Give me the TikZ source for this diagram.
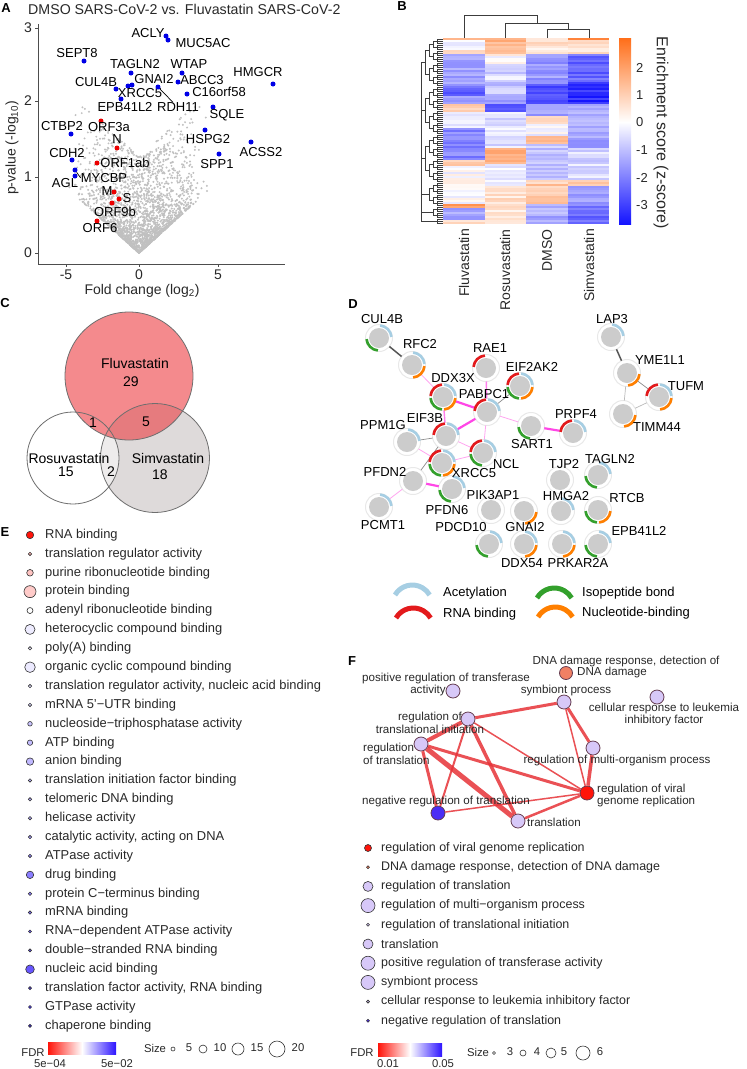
\documentclass[tikz,border=0pt]{standalone}
\usepackage{fontspec}
\setmainfont{Liberation Sans}
\newcommand\fsz[1]{\fontsize{#1}{#1}\selectfont}
\definecolor{zblue}{RGB}{20,20,255}
\definecolor{zorange}{RGB}{255,110,25}
\definecolor{volgrey}{RGB}{192,192,192}
\definecolor{ptblue}{RGB}{0,0,230}
\definecolor{ptred}{RGB}{235,0,0}
\definecolor{axisgrey}{RGB}{77,77,77}
\definecolor{dendgrey}{RGB}{60,60,60}
\definecolor{vennred}{RGB}{236,60,65}
\definecolor{venngrey}{RGB}{222,218,218}
\definecolor{vennedge}{RGB}{110,110,110}
\definecolor{protgrey}{RGB}{204,204,204}
\definecolor{halo}{RGB}{232,232,232}
\definecolor{acet}{RGB}{166,206,227}
\definecolor{rnab}{RGB}{227,26,28}
\definecolor{isop}{RGB}{51,160,44}
\definecolor{nuco}{RGB}{255,127,0}
\definecolor{edgepink}{RGB}{255,165,240}
\definecolor{edgemag}{RGB}{255,70,230}
\definecolor{edgegrey}{RGB}{140,140,140}
\definecolor{edgedark}{RGB}{85,85,85}
\definecolor{fdrred}{RGB}{255,20,10}
\definecolor{fdrblue}{RGB}{45,20,255}
\definecolor{lav}{RGB}{215,200,248}
\definecolor{fborder}{RGB}{100,60,80}
\definecolor{fred}{RGB}{230,50,55}
\definecolor{salmon}{RGB}{240,128,100}
\definecolor{fnegblue}{RGB}{75,45,245}
\definecolor{txtgrey}{RGB}{40,40,40}

\begin{document}
\begin{tikzpicture}[x=1pt,y=-1pt,
  pletter/.style={font=\bfseries\fsz{13},inner sep=0},
  gene/.style={font=\fsz{13},inner sep=0},
  tick/.style={font=\fsz{14},inner sep=0,text=txtgrey},
  bluept/.style={circle,fill=ptblue,inner sep=0,minimum size=5pt},
  redpt/.style={circle,fill=ptred,inner sep=0,minimum size=5pt},
  leader/.style={draw=black,line width=0.7pt},
  prot/.style={circle,fill=protgrey,inner sep=0,minimum size=20pt,outer sep=3.5pt},
  plbl/.style={font=\fsz{13},inner sep=0},
  ppi/.style={draw=edgepink,line width=0.8pt},
  ppim/.style={draw=edgemag!70!white,line width=1.4pt},
  ppis/.style={draw=edgemag,line width=2.2pt},
  ppig/.style={draw=edgegrey,line width=0.7pt},
  ppid/.style={draw=edgedark,line width=1.5pt},
  goterm/.style={circle,draw=black!80,line width=0.6pt,inner sep=0},
  golbl/.style={font=\fsz{12.9},inner sep=0,anchor=west,text=txtgrey},
  fterm/.style={circle,draw=fborder,line width=0.8pt,minimum size=14pt,inner sep=0,fill=#1},
  flbl/.style={font=\fontsize{11.6}{12.8}\selectfont,inner sep=0,text=txtgrey},
  fedge/.style={draw=fred,line width=#1,draw opacity=0.85},
  fleg/.style={font=\fsz{12.45},inner sep=0,anchor=west,text=txtgrey},
  cblbl/.style={font=\fsz{11.3},inner sep=0,text=txtgrey}]
\useasboundingbox (0,0) rectangle (747,1069);

% ---------- A: volcano plot
\node[pletter] (lA) at (6,8) {A};
\node[font=\fsz{14.2},inner sep=0,anchor=west,text=txtgrey] (titleA) at (28,9) {DMSO SARS-CoV-2 vs. Fluvastatin SARS-CoV-2};
\pgfmathsetseed{11}
\foreach \i in {1,...,2400}{
  \pgfmathsetmacro\fx{1.6*(rand+rand+rand)}
  \pgfmathsetmacro\py{0.19*abs(\fx)+1.3*rnd^2.6}
  \fill[volgrey] (139+15.8*\fx,253-75*\py) circle (1.1pt);
}
\draw[axisgrey,line width=1pt] (38,24) -- (38,264) -- (285,264);
\foreach \yv/\yl in {28/3,101/2,177/1,253/0}{
  \draw[axisgrey,line width=1pt] (35,\yv) -- (38,\yv);
  \node[tick,anchor=east] at (32,\yv) {\yl};
}
\foreach \xv/\xl in {66/-5,139/0,218/5}{
  \draw[axisgrey,line width=1pt] (\xv,264) -- (\xv,267);
  \node[tick] at (\xv,275) {\xl};
}
\node[tick,rotate=90] (ytitle) at (12,148) {p-value (-log\textsubscript{10})};
\node[tick] (xtitle) at (142,291) {Fold change (log\textsubscript{2})};
\foreach \n/\x/\y/\lx/\ly in {ACLY/166/36/148/33, MUC5AC/168/40/203/43,
  SEPT8/84/61/77/53, TAGLN2/131/73/135/64, WTAP/182/73/189/64,
  HMGCR/273/84/258/72, GNAI2/132/85/154/79, ABCC3/178/82/202/80,
  CUL4B/116/89/96/82, XRCC5/128/86/140/93, RDH11/158/87/178/107,
  C16orf58/187/94/219/92, EPB41L2/121/99/125/107, SQLE/213/107/227/115,
  CTBP2/71/134/62/126, HSPG2/205/130/208/139, ACSS2/251/142/261/152,
  SPP1/219/154/217/164, CDH2/72/160/67/153, MYCBP/75/170/104/178,
  AGL/75/176/65/183}{
  \node[bluept] (v\n) at (\x,\y) {};
  \node[gene] (t\n) at (\lx,\ly) {\n};
}
\foreach \n/\x/\y/\lx/\ly in {ORF3a/101/121/109/127, N/117/148/117/139,
  ORF1ab/97/163/125/163, M/114/192/107/191, S/119/199/127/198,
  ORF9b/112/203/115/212, ORF6/97/221/100/228}{
  \node[redpt] (v\n) at (\x,\y) {};
  \node[gene] (t\n) at (\lx,\ly) {\n};
}
\draw[leader] (vRDH11) -- ([xshift=16pt]tRDH11.north west);
\draw[leader] (vMYCBP) -- (tMYCBP.west);

% ---------- B: heatmap
\node[pletter] (lB) at (402,6) {B};
\pgfmathsetseed{5}
\foreach \hcol/\segs in {
  0/{0/0/1.3,1/5/0.0,6/7/1.2,8/23/-1.5,24/28/-2.4,29/32/-1.5,33/36/0.9,37/44/-0.4,45/60/-1.9,61/63/1.0,64/82/0.0,83/84/2.0,85/90/-1.4,91/92/0.8},
  1/{0/7/1.6,8/12/0.1,13/18/-0.9,19/20/0.0,21/28/-0.9,29/32/-1.6,33/36/-2.5,37/54/-0.5,55/62/1.7,63/73/-0.4,74/92/0.6},
  2/{0/7/0.6,8/22/-1.6,23/32/-2.8,33/38/-1.6,39/42/1.0,43/48/-0.2,49/52/1.5,53/70/-0.9,71/72/0.9,73/82/1.1,83/92/-1.3},
  3/{0/0/2.9,1/7/0.7,8/21/-2.4,22/32/-3.3,33/54/-1.4,55/70/-0.6,71/73/0.9,74/83/-1.5,84/92/-2.3}}{
  \foreach \hs/\he/\hm in \segs {
    \foreach \hrow in {\hs,...,\he}{
      \pgfmathsetmacro\hval{\hm+0.45*rand}
      \ifdim\hval pt<0pt
        \pgfmathsetmacro\pc{min(100,-27*\hval)}\colorlet{hc}{zblue!\pc!white}
      \else
        \pgfmathsetmacro\pc{min(100,33*\hval)}\colorlet{hc}{zorange!\pc!white}
      \fi
      \fill[hc] (443+41.5*\hcol,38+2*\hrow) rectangle ++(41.6,2.1);
    }
  }
}
% column dendrogram
\draw[dendgrey,line width=0.8pt] (464,38) -- (464,15) -- (537,15) -- (537,23);
\draw[dendgrey,line width=0.8pt] (505,38) -- (505,23) -- (568,23) -- (568,29);
\draw[dendgrey,line width=0.8pt] (547,38) -- (547,29) -- (589,29) -- (589,38);
% row dendrogram
\begin{scope}[dendgrey,line width=0.5pt]
\foreach \g in {0,...,30}{
  \draw (443,39+6*\g) -- (437,39+6*\g) -- (437,43+6*\g) -- (443,43+6*\g);
  \draw (437,41+6*\g) -- (443,41+6*\g);
}
\foreach \p in {0,...,14}
  \draw (437,41+12*\p) -- (433,41+12*\p) -- (433,47+12*\p) -- (437,47+12*\p);
\foreach \q in {0,...,6}
  \draw (433,44+24*\q) -- (429,44+24*\q) -- (429,56+24*\q) -- (433,56+24*\q);
\foreach \k in {0,...,2}
  \draw (429,50+48*\k) -- (425,50+48*\k) -- (425,74+48*\k) -- (429,74+48*\k);
\draw (421,62) -- (421,221);
\draw (421,62) -- (425,62) (421,110) -- (425,110) (421,158) -- (425,158)
      (421,194) -- (429,194) (421,212) -- (433,212) (421,221) -- (437,221);
\end{scope}
\foreach \x/\n in {464/Fluvastatin,505/Rosuvastatin,547/DMSO,589/Simvastatin}
  \node[tick,rotate=90,anchor=east] at (\x,229) {\n};
% colour key
\shade[top color=zorange,bottom color=white] (619,38) rectangle (631,122);
\shade[top color=white,bottom color=zblue] (619,122) rectangle (631,224);
\foreach \yv/\yl in {68/2,95/1,122/0,150/-1,178/-2,205/-3}
  \node[font=\fsz{13},inner sep=0,anchor=west,text=txtgrey] at (636,\yv) {\yl};
\node[font=\fsz{16},inner sep=0,rotate=-90,text=txtgrey] (keytitle) at (661,133) {Enrichment score (z-score)};

% ---------- C: Venn diagram
\node[pletter] (lC) at (5,303) {C};
\fill[venngrey] (155,458) circle (54.5pt);
\fill[white,fill opacity=0.5] (73,458) circle (46pt);
\fill[vennred,fill opacity=0.6] (129,376) circle (64pt);
\draw[vennedge,line width=0.8pt] (155,458) circle (54.5pt);
\draw[vennedge,line width=0.8pt] (73,458) circle (46pt);
\draw[vennedge,line width=0.8pt] (129,376) circle (64pt);
\foreach \x/\y/\t in {135/363/Fluvastatin, 131/382/29, 93/423/1, 146/422/5,
  69/458/Rosuvastatin, 66/472/15, 111/472/2, 168/458/Simvastatin, 160/475/18}
  \node[tick,text=black] at (\x,\y) {\t};

% ---------- D: protein network
\node[pletter] (lD) at (353,304) {D};
\foreach \n/\x/\y in {CUL4B/379/338, RFC2/412/365, RAE1/486/368, EIF2AK2/520/386,
  DDX3X/443/397, PABPC1/487/412, SART1/531/426, PRPF4/573/433, PPM1G/407/442,
  EIF3B/446/436, NCL/483/453, XRCC5/442/463, PFDN2/413/481, PFDN6/452/489,
  PCMT1/379/507, PIK3AP1/491/510, TJP2/560/480, TAGLN2/598/475, HMGA2/561/511,
  RTCB/598/510, PDCD10/489/544, GNAI2/524/511, DDX54/524/544, PRKAR2A/562/544,
  EPB41L2/598/544, LAP3/611/337, YME1L1/627/373, TUFM/659/397, TIMM44/623/414}{
  \node[prot] (\n) at (\x,\y) {};
  \draw[halo,line width=1pt] (\n.center) circle (13.5pt);
}
\draw[ppid] (CUL4B) -- (RFC2);
\draw[ppi] (RFC2) -- (DDX3X);
\draw[ppim] (RAE1) -- (PABPC1);
\draw[ppis] (DDX3X) -- (PABPC1);
\draw[ppig] (PABPC1) -- (EIF2AK2);
\draw[ppi] (PABPC1) -- (SART1);
\draw[ppis] (SART1) -- (PRPF4);
\draw[ppim] (DDX3X) -- (EIF3B);
\draw[ppis] (EIF3B) -- (PABPC1);
\draw[ppi] (PABPC1) -- (NCL);
\draw[ppi] (EIF3B) -- (NCL);
\draw[ppig] (PPM1G) -- (EIF3B);
\draw[ppi] (PPM1G) -- (XRCC5);
\draw[ppig] (EIF3B) -- (PFDN2);
\draw[ppi] (XRCC5) -- (NCL);
\draw[ppis] (PFDN2) -- (PFDN6);
\draw[ppi] (PFDN2) -- (PCMT1);
\draw[ppid] (LAP3) -- (YME1L1);
\draw[ppig] (YME1L1) -- (TUFM);
\draw[ppig,draw=edgegrey!60] (YME1L1) -- (TIMM44);
\draw[ppig,draw=edgegrey!60] (TUFM) -- (TIMM44);
\foreach \n/\q in {CUL4B/{0/acet,180/isop}, RFC2/{0/acet,270/nuco}, RAE1/{90/rnab},
  EIF2AK2/{0/acet,90/rnab,180/isop,270/nuco}, DDX3X/{0/acet,90/rnab,180/isop,270/nuco},
  PABPC1/{0/acet,90/rnab}, SART1/{180/isop}, PRPF4/{0/acet,90/rnab}, PPM1G/{0/acet},
  EIF3B/{0/acet,90/rnab}, NCL/{0/acet,90/rnab,180/isop},
  XRCC5/{0/acet,90/rnab,180/isop,270/nuco}, PFDN6/{0/acet,180/isop}, PCMT1/{0/acet},
  TAGLN2/{0/acet,180/isop}, HMGA2/{0/acet}, RTCB/{180/isop,270/nuco},
  PDCD10/{0/acet,180/isop}, GNAI2/{270/nuco}, DDX54/{0/acet,270/nuco},
  PRKAR2A/{0/acet,270/nuco}, EPB41L2/{0/acet,180/isop}, LAP3/{0/acet},
  YME1L1/{270/nuco}, TUFM/{0/acet,90/rnab,270/nuco}, TIMM44/{270/nuco}}{
  \foreach \qa/\qc in \q
    \draw[\qc,line width=2.6pt] ([shift={(\qa+5:12.5pt)}]\n.center) arc[start angle=\qa+5,end angle=\qa+85,radius=12.5pt];
}
\foreach \n/\x/\y in {CUL4B/382/319, RFC2/420/344, RAE1/490/348, EIF2AK2/532/367,
  DDX3X/453/378, PABPC1/484/394, SART1/532/444, PRPF4/576/414, PPM1G/383/425,
  EIF3B/425/418, NCL/506/464, XRCC5/474/473, PFDN2/385/472, PFDN6/447/510,
  PCMT1/383/525, PIK3AP1/493/495, TJP2/564/464, TAGLN2/610/459, HMGA2/566/496,
  RTCB/627/498, PDCD10/461/527, GNAI2/525/527, DDX54/522/563, PRKAR2A/578/563,
  EPB41L2/639/531, LAP3/612/319, YME1L1/660/360, TUFM/686/386, TIMM44/657/427}
  \node[plbl] (l\n) at (\x,\y) {\n};
% legend
\draw[acet,line width=5pt] (395,595) arc[start angle=150,end angle=30,radius=20pt];
\draw[rnab,line width=5pt] (396,618) arc[start angle=150,end angle=30,radius=20pt];
\draw[isop,line width=5pt] (537,598) arc[start angle=150,end angle=30,radius=20pt];
\draw[nuco,line width=5pt] (538,617) arc[start angle=150,end angle=30,radius=20pt];
\node[plbl,anchor=west] (legAcet) at (443,593) {Acetylation};
\node[plbl,anchor=west] (legRna) at (443,614) {RNA binding};
\node[plbl,anchor=west] (legIso) at (582,593) {Isopeptide bond};
\node[plbl,anchor=west] (legNuc) at (582,613) {Nucleotide-binding};

% ---------- E: GO molecular function
\node[pletter] (lE) at (5,532) {E};
\foreach \t/\r/\gc [count=\i from 0] in {RNA binding/3.7/fdrred,
  translation regulator activity/1.7/fdrred!30!white,
  purine ribonucleotide binding/3.3/fdrred!25!white,
  protein binding/6/fdrred!22!white,
  adenyl ribonucleotide binding/3/white,
  heterocyclic compound binding/5/fdrblue!8!white,
  poly(A) binding/1.7/fdrblue!10!white,
  organic cyclic compound binding/5.3/fdrblue!9!white,
  {translation regulator activity, nucleic acid binding}/1.7/fdrblue!14!white,
  mRNA 5'−UTR binding/1.7/fdrblue!17!white,
  nucleoside−triphosphatase activity/2.3/fdrblue!25!white,
  ATP binding/2.7/fdrblue!28!white,
  anion binding/3.7/fdrblue!30!white,
  translation initiation factor binding/1.7/fdrblue!33!white,
  telomeric DNA binding/1.7/fdrblue!36!white,
  helicase activity/1.7/fdrblue!38!white,
  {catalytic activity, acting on DNA}/1.7/fdrblue!42!white,
  ATPase activity/1.7/fdrblue!52!white,
  drug binding/3.7/fdrblue!55!white,
  protein C−terminus binding/1.7/fdrblue!58!white,
  mRNA binding/1.7/fdrblue!62!white,
  RNA−dependent ATPase activity/1.5/fdrblue!68!white,
  double−stranded RNA binding/1.5/fdrblue!70!white,
  nucleic acid binding/4.3/fdrblue!72!white,
  {translation factor activity, RNA binding}/1.5/fdrblue!85!white,
  GTPase activity/1.5/fdrblue!88!white,
  chaperone binding/1.5/fdrblue!95!white}{
  \node[goterm,minimum size=2*\r pt,fill=\gc] (e\i) at (30,535+18.88*\i) {};
  \node[golbl] (et\i) at (45,535+18.88*\i) {\t};
}
\node[cblbl] (fdrE) at (33,1053) {FDR};
\shade[left color=fdrred,right color=fdrblue,middle color=white] (48,1042) rectangle (116,1054);
\node[cblbl] at (50,1064) {5e−04};
\node[cblbl] at (117,1064) {5e−02};
\node[cblbl] (sizeE) at (155,1048) {Size};
\foreach \x/\r/\lx/\l in {173/2/189/5, 203/4/220/10, 238/6/257/15, 277/8/298/20}{
  \draw[black!80,line width=0.6pt] (\x,1049) circle (\r pt);
  \node[cblbl] at (\lx,1048) {\l};
}

% ---------- F: GO biological process network
\node[pletter] (lF) at (352,661) {F};
\node[fterm=lav] (fpos) at (453,691) {};
\node[fterm=salmon,minimum size=13pt] (fdna) at (566,673) {};
\node[fterm=lav] (fsym) at (564,702) {};
\node[fterm=lav] (fcell) at (657,697) {};
\node[fterm=lav] (finit) at (468,719) {};
\node[fterm=lav] (freg) at (421,744) {};
\node[fterm=lav] (fmulti) at (593,748) {};
\node[fterm=fdrred] (fviral) at (587,793) {};
\node[fterm=fnegblue] (fneg) at (438,813) {};
\node[fterm=lav] (ftrans) at (518,821) {};
\draw[fedge=3pt] (finit) -- (fsym);
\draw[fedge=4pt] (finit) -- (freg);
\draw[fedge=2pt] (finit) -- (fneg);
\draw[fedge=3.5pt] (finit) -- (ftrans);
\draw[fedge=1.5pt] (finit) -- (fviral);
\draw[fedge=3pt] (freg) -- (fneg);
\draw[fedge=5pt] (freg) -- (ftrans);
\draw[fedge=3pt] (freg) -- (fviral);
\draw[fedge=1.5pt] (fneg) -- (fviral);
\draw[fedge=2.5pt] (ftrans) -- (fviral);
\draw[fedge=3pt] (fsym) -- (fmulti);
\draw[fedge=1.5pt] (fsym) -- (fviral);
\draw[fedge=3.5pt] (fmulti) -- (fviral);
\node[flbl] (lpos1) at (446,678) {positive regulation of transferase};
\node[flbl] (lpos2) at (428,690) {activity};
\node[flbl] (ldna1) at (626,661) {DNA damage response, detection of};
\node[flbl] (ldna2) at (612,672) {DNA damage};
\node[flbl] (lsym) at (566,690) {symbiont process};
\node[flbl,align=center] (lcell) at (664,714.5) {cellular response to leukemia\\inhibitory factor};
\node[flbl,align=center] (linit) at (430,722.5) {regulation of\\translational initiation};
\node[flbl,align=left,anchor=west] (lreg) at (363,753.5) {regulation\\of translation};
\node[flbl] (lmulti) at (617,760) {regulation of multi-organism process};
\node[flbl,align=left,anchor=west] (lviral) at (597,795.5) {regulation of viral\\genome replication};
\node[flbl] (lneg) at (446,801) {negative regulation of translation};
\node[flbl,anchor=west] (ltrans) at (527,822) {translation};
% legend
\foreach \t/\r/\gc [count=\i from 0] in {regulation of viral genome replication/3.5/fdrred,
  {DNA damage response, detection of DNA damage}/1.5/salmon,
  regulation of translation/5/lav,
  regulation of multi−organism process/7/lav,
  regulation of translational initiation/1.5/lav,
  translation/5/lav,
  positive regulation of transferase activity/7/lav,
  symbiont process/7/lav,
  cellular response to leukemia inhibitory factor/1.5/lav,
  negative regulation of translation/1.5/fnegblue}{
  \node[goterm,minimum size=2*\r pt,fill=\gc] (f\i) at (368,848+19.2*\i) {};
  \node[fleg] (ft\i) at (381,848+19.2*\i) {\t};
}
\node[cblbl] (fdrF) at (362,1053) {FDR};
\shade[left color=fdrred,right color=fdrblue,middle color=white] (378,1043) rectangle (442,1056);
\node[cblbl] at (388,1064) {0.01};
\node[cblbl] at (443,1064) {0.05};
\node[cblbl] (sizeF) at (478,1052) {Size};
\foreach \x/\r/\lx/\l in {494/1.5/510/3, 523/3/537/4, 551/5/564/5, 583/7/600/6}{
  \draw[black!80,line width=0.6pt] (\x,1053) circle (\r pt);
  \node[cblbl] at (\lx,1052) {\l};
}
\end{tikzpicture}
\end{document}
